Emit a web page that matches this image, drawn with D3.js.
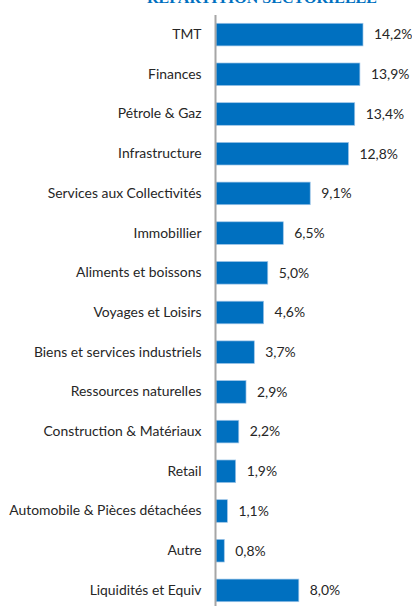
<!DOCTYPE html>
<html><head><meta charset="utf-8">
<script src="https://cdn.jsdelivr.net/npm/d3@7"></script>
<style>
html,body{margin:0;padding:0;background:#fff;}
svg{display:block;}
</style></head>
<body>
<script>
const categories = ["TMT","Finances","Pétrole & Gaz","Infrastructure","Services aux Collectivités","Immobillier","Aliments et boissons","Voyages et Loisirs","Biens et services industriels","Ressources naturelles","Construction & Matériaux","Retail","Automobile & Pièces détachées","Autre","Liquidités et Equiv"];
const values = [14.2,13.9,13.4,12.8,9.1,6.5,5.0,4.6,3.7,2.9,2.2,1.9,1.1,0.8,8.0];
const title = "RÉPARTITION SECTORIELLE";

const W = 412, H = 606;
const svg = d3.select("body").append("svg").attr("width", W).attr("height", H);

const x = d3.scaleLinear().domain([0, 14.2]).range([216, 363]);
const y = d3.scaleBand().domain(categories).range([14.75, 610.25]).paddingInner(0.43).paddingOuter(0.215);

const t = svg.append("text").attr("x", 262).attr("y", 3).attr("text-anchor", "middle")
  .attr("font-family", "Liberation Serif").attr("font-weight", "bold").attr("font-size", 15)
  .attr("fill", "#0070C0").text(title);
const tw = t.node().getComputedTextLength();
if (tw > 0) t.attr("textLength", 230).attr("lengthAdjust", "spacingAndGlyphs");

svg.selectAll("rect.bar").data(values).join("rect").attr("class","bar")
  .attr("x", x(0)).attr("y", (d,i)=>y(categories[i]))
  .attr("width", d=>x(d)-x(0)).attr("height", y.bandwidth())
  .attr("fill", "#0070C0").attr("stroke", "#9ec5e8").attr("stroke-width", 0.7);

const fs = 13.9;
const axis = d3.axisLeft(y).tickSize(0).tickPadding(14);
const gA = svg.append("g").attr("transform", `translate(${x(0)-0.5},0)`).call(axis);
gA.select(".domain").attr("d", `M0,15V${H}`).attr("stroke", "#a6a6a6").attr("stroke-width", 2);
gA.selectAll("text").attr("font-family", "Lato").attr("font-size", fs).attr("fill", "#262626");

svg.selectAll("text.val").data(values).join("text").attr("class","val")
  .attr("x", d=>x(d)+11).attr("y", (d,i)=>y(categories[i])+y.bandwidth()/2)
  .attr("dy", "0.35em").attr("font-family", "Lato").attr("font-size", fs).attr("fill", "#262626")
  .text(d=>d.toFixed(1).replace(".", ",")+"%");
</script>
</body></html>
